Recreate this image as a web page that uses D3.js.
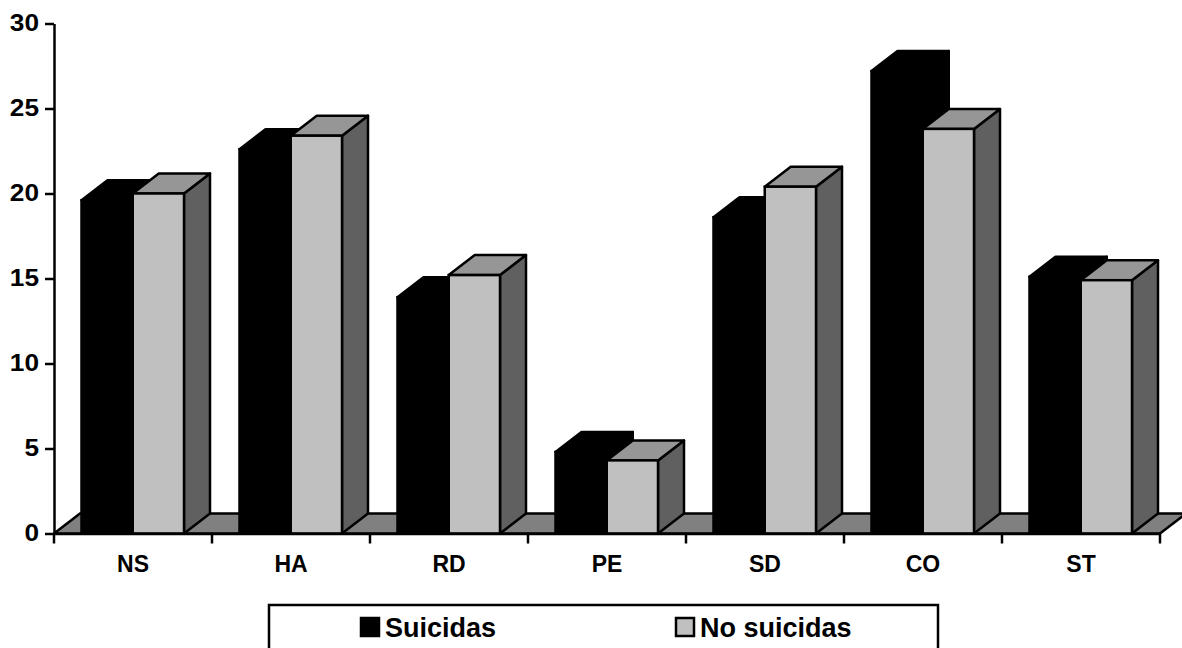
<!DOCTYPE html>
<html>
<head>
<meta charset="utf-8">
<script src="https://cdn.jsdelivr.net/npm/d3@7"></script>
<style>
  html, body { margin: 0; padding: 0; background: #fff; overflow: hidden; }
  text { font-family: "Liberation Sans", Arial, sans-serif; font-weight: bold; fill: #000; }
</style>
</head>
<body>
<div id="chart"></div>
<script>
let categories = ['NS', 'HA', 'RD', 'PE', 'SD', 'CO', 'ST'];
let seriesNames = ['Suicidas', 'No suicidas'];
let suicidas = [19.6, 22.6, 13.9, 4.8, 18.6, 27.2, 15.1];
let noSuicidas = [20.0, 23.4, 15.2, 4.3, 20.4, 23.8, 14.9];
let yTicks = [0, 5, 10, 15, 20, 25, 30];

let width = 1182;
let height = 648;
let depthX = 26;
let depthY = 20;
let strokeW = 2.5;

// front, top and side shades of each series
let shades = {
  'Suicidas': ['#000000', '#000000', '#000000'],
  'No suicidas': ['#c0c0c0', '#969696', '#606060']
};

let x = d3.scaleBand().domain(categories).range([54, 1160]);
let xInner = d3.scaleBand().domain(seriesNames).range([27.5, 130]);
let y = d3.scaleLinear().domain([0, 30]).range([533.5, 23.5]);

let svg = d3.select('#chart')
  .append('svg')
  .attr('width', width)
  .attr('height', height)
  .style('display', 'block');

// floor
let floorLeft = x.range()[0];
let floorRight = x.range()[1];
svg.append('path')
  .attr('d', `M${floorLeft},${y(0)}L${floorLeft + depthX},${y(0) - depthY}L${floorRight + depthX},${y(0) - depthY}L${floorRight},${y(0)}Z`)
  .attr('fill', '#808080')
  .attr('stroke', '#000')
  .attr('stroke-width', strokeW);

let rows = categories.map((c, i) => ({ cat: c, values: [suicidas[i], noSuicidas[i]] }));

let groups = svg.selectAll('g.cat')
  .data(rows)
  .enter()
  .append('g')
  .attr('class', 'cat')
  .attr('transform', d => `translate(${x(d.cat)},0)`);

let bars = groups.selectAll('g.bar')
  .data(d => d.values.map((v, i) => ({ name: seriesNames[i], value: v })))
  .enter()
  .append('g')
  .attr('class', 'bar');

function left(d) { return xInner(d.name); }
function right(d) { return xInner(d.name) + xInner.bandwidth(); }

// side
bars.append('path')
  .attr('d', d => `M${right(d)},${y(0)}L${right(d) + depthX},${y(0) - depthY}L${right(d) + depthX},${y(d.value) - depthY}L${right(d)},${y(d.value)}Z`)
  .attr('fill', d => shades[d.name][2])
  .attr('stroke', '#000')
  .attr('stroke-width', strokeW)
  .attr('stroke-linejoin', 'round');

// top
bars.append('path')
  .attr('d', d => `M${left(d)},${y(d.value)}L${left(d) + depthX},${y(d.value) - depthY}L${right(d) + depthX},${y(d.value) - depthY}L${right(d)},${y(d.value)}Z`)
  .attr('fill', d => shades[d.name][1])
  .attr('stroke', '#000')
  .attr('stroke-width', strokeW)
  .attr('stroke-linejoin', 'round');

// front
bars.append('rect')
  .attr('x', d => left(d))
  .attr('y', d => y(d.value))
  .attr('width', xInner.bandwidth())
  .attr('height', d => y(0) - y(d.value))
  .attr('fill', d => shades[d.name][0])
  .attr('stroke', '#000')
  .attr('stroke-width', strokeW);

// axes
let yAxis = svg.append('g')
  .attr('transform', `translate(${floorLeft},0)`)
  .call(d3.axisLeft(y).tickValues(yTicks).tickSize(9).tickPadding(0).tickSizeOuter(0));

let xAxis = svg.append('g')
  .attr('transform', `translate(0,${y(0)})`)
  .call(d3.axisBottom(x).tickSize(0).tickPadding(22));

// category ticks sit between the bands, not at their centres
xAxis.selectAll('line.sep')
  .data(categories.concat('end'))
  .enter()
  .append('line')
  .attr('class', 'sep')
  .attr('x1', d => d === 'end' ? floorRight : x(d))
  .attr('x2', d => d === 'end' ? floorRight : x(d))
  .attr('y1', 0)
  .attr('y2', 10)
  .attr('stroke', '#000')
  .attr('stroke-width', strokeW);

svg.selectAll('.domain').attr('stroke', '#000').attr('stroke-width', strokeW);
svg.selectAll('.tick line').attr('stroke', '#000').attr('stroke-width', strokeW);
yAxis.selectAll('text')
  .attr('x', 0)
  .style('font-size', '23px')
  .attr('transform', 'translate(-15,0) scale(1.14,1)');
xAxis.selectAll('text')
  .style('font-size', '23px');

// legend
svg.append('rect')
  .attr('x', 269)
  .attr('y', 605)
  .attr('width', 669)
  .attr('height', 60)
  .attr('fill', '#fff')
  .attr('stroke', '#000')
  .attr('stroke-width', strokeW);

let legendX = d3.scaleOrdinal().domain(seriesNames).range([361, 676]);
let legend = svg.selectAll('g.legend')
  .data(seriesNames)
  .enter()
  .append('g')
  .attr('class', 'legend')
  .attr('transform', d => `translate(${legendX(d)},618)`);

legend.append('rect')
  .attr('width', 18)
  .attr('height', 18)
  .attr('fill', d => shades[d][0])
  .attr('stroke', '#000')
  .attr('stroke-width', strokeW);

legend.append('text')
  .attr('x', 24)
  .attr('y', 19)
  .style('font-size', '27px')
  .text(d => d);
</script>
</body>
</html>
